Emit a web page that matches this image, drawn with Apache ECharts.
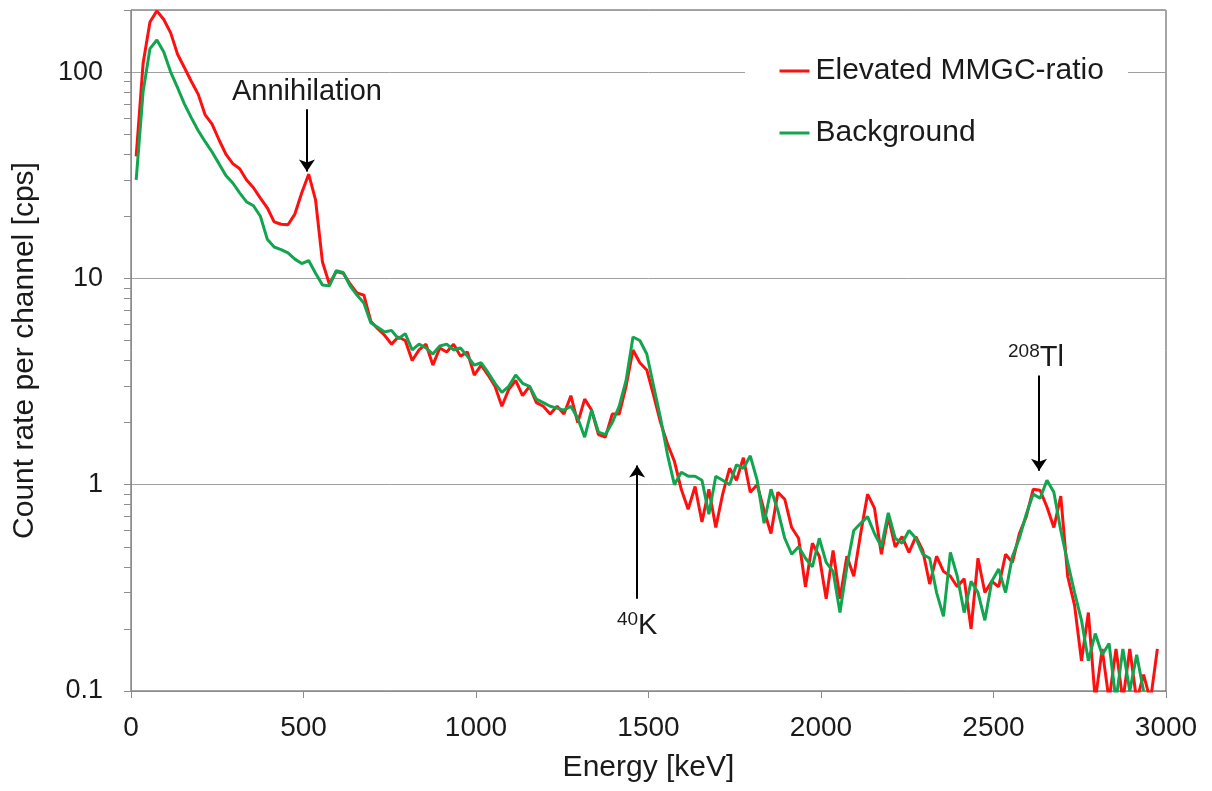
<!DOCTYPE html>
<html>
<head>
<meta charset="utf-8">
<title>Spectrum</title>
<script src="https://cdn.jsdelivr.net/npm/echarts@6.0.0/dist/echarts.min.js"></script>
<style>
  html, body { margin: 0; padding: 0; background: #fff; }
  #chart { width: 1212px; height: 791px; }
</style>
</head>
<body>
<div id="chart"></div>
<script>
// channel energies (keV)
const energy = [
  15, 35, 55, 75, 95, 115, 135, 155, 175, 195,
  215, 235, 255, 275, 295, 315, 335, 355, 375, 395,
  415, 435, 455, 475, 495, 515, 535, 555, 575, 595,
  615, 635, 655, 675, 695, 715, 735, 755, 775, 795,
  815, 835, 855, 875, 895, 915, 935, 955, 975, 995,
  1015, 1035, 1055, 1075, 1095, 1115, 1135, 1155, 1175, 1195,
  1215, 1235, 1255, 1275, 1295, 1315, 1335, 1355, 1375, 1395,
  1415, 1435, 1455, 1475, 1495, 1515, 1535, 1555, 1575, 1595,
  1615, 1635, 1655, 1675, 1695, 1715, 1735, 1755, 1775, 1795,
  1815, 1835, 1855, 1875, 1895, 1915, 1935, 1955, 1975, 1995,
  2015, 2035, 2055, 2075, 2095, 2115, 2135, 2155, 2175, 2195,
  2215, 2235, 2255, 2275, 2295, 2315, 2335, 2355, 2375, 2395,
  2415, 2435, 2455, 2475, 2495, 2515, 2535, 2555, 2575, 2595,
  2615, 2635, 2655, 2675, 2695, 2715, 2735, 2755, 2775, 2795,
  2815, 2835, 2855, 2875, 2895, 2915, 2935, 2955, 2975
];

// Elevated MMGC-ratio (cps)
const elevated = [
  39, 110, 175, 198, 180, 155, 122, 105, 90, 78,
  62, 56, 47, 40, 36, 34, 30, 27.5, 24.5, 22,
  18.8, 18.3, 18.2, 20.5, 26, 32, 24, 12, 9.4, 10.8,
  10.6, 9.4, 8.5, 8.3, 6.2, 5.7, 5.3, 4.8, 5.2, 5.0,
  4.0, 4.5, 4.8, 3.8, 4.6, 4.4, 4.8, 4.2, 4.4, 3.4,
  3.8, 3.4, 3.0, 2.4, 2.9, 3.2, 2.7, 3.0, 2.5, 2.4,
  2.2, 2.4, 2.2, 2.7, 2.0, 2.6, 2.3, 1.75, 1.7, 2.2,
  2.2, 3.0, 4.5, 3.9, 3.6, 2.7, 2.0, 1.58, 1.3, 0.95,
  0.76, 0.98, 0.66, 0.95, 0.62, 0.9, 1.2, 1.05, 1.35, 0.92,
  1.0, 0.75, 0.58, 0.92, 0.85, 0.62, 0.55, 0.32, 0.52, 0.45,
  0.28, 0.48, 0.28, 0.45, 0.36, 0.58, 0.9, 0.77, 0.46, 0.7,
  0.5, 0.56, 0.47, 0.56, 0.48, 0.33, 0.45, 0.38, 0.36, 0.32,
  0.35, 0.2, 0.44, 0.3, 0.34, 0.32, 0.46, 0.42, 0.58, 0.7,
  0.95, 0.94, 0.78, 0.62, 0.88, 0.36, 0.26, 0.14, 0.24, 0.09,
  0.16, 0.09, 0.16, 0.09, 0.16, 0.09, 0.12, 0.09, 0.16
];

// Background (cps)
const background = [
  30, 80, 130, 143, 125, 100, 84, 70, 60, 52,
  46, 41, 36, 31.5, 29, 26, 23.5, 22.5, 20, 15.5,
  14.2, 13.8, 13.3, 12.4, 11.8, 12.2, 10.6, 9.3, 9.2, 10.9,
  10.7, 9.2, 8.3, 7.6, 6.1, 5.8, 5.5, 5.6, 5.1, 5.4,
  4.5, 4.8, 4.6, 4.3, 4.7, 4.8, 4.5, 4.6, 4.2, 3.8,
  3.9, 3.5, 3.1, 2.8, 3.0, 3.4, 3.1, 3.0, 2.6, 2.5,
  2.4, 2.35, 2.3, 2.4, 2.1, 1.7, 2.3, 1.8, 1.75, 2.0,
  2.4, 3.2, 5.2, 5.0, 4.3, 3.0, 2.1, 1.4, 1.0, 1.15,
  1.1, 1.1, 1.05, 0.72, 1.1, 1.05, 1.0, 1.25, 1.2, 1.38,
  1.05, 0.65, 0.95, 0.75, 0.55, 0.46, 0.5, 0.44, 0.4, 0.55,
  0.42, 0.38, 0.24, 0.4, 0.6, 0.65, 0.7, 0.58, 0.5, 0.73,
  0.55, 0.52, 0.6, 0.55, 0.46, 0.44, 0.3, 0.23, 0.47, 0.36,
  0.24, 0.34, 0.3, 0.22, 0.34, 0.39, 0.3, 0.45, 0.55, 0.72,
  0.9, 0.86, 1.05, 0.92, 0.6, 0.42, 0.3, 0.22, 0.14, 0.19,
  0.15, 0.17, 0.09, 0.16, 0.1, 0.15, 0.1
];

const yLabels = [0.1, 1, 10, 100];
const yTicks = [
  0.1, 0.2, 0.3, 0.4, 0.5, 0.6, 0.7, 0.8, 0.9,
  1, 2, 3, 4, 5, 6, 7, 8, 9,
  10, 20, 30, 40, 50, 60, 70, 80, 90,
  100, 200
];

// annotation arrows: [energy, from value, to value]
const arrows = [
  [510, 66, 33],
  [1467, 0.28, 1.24],
  [2632, 3.38, 1.17]
];
// annotation labels: [energy, value, text]
const notes = [
  [510, 80, 'Annihilation'],
  [1467, 0.207, '{sup|40}{b|K}'],
  [2623, 4.1, '{sup|208}{b|Tl}']
];

const FONT = 'Liberation Sans, Arial, sans-serif';
const TXT = '#1a1a1a';
const AXIS = '#8c8c8c';

const chart = echarts.init(document.getElementById('chart'));

const option = {
  backgroundColor: '#fff',
  animation: false,
  grid: {
    left: 131, right: 46, top: 10, bottom: 100,
    outerBoundsMode: 'none',
    show: true,
    borderColor: '#4d4d4d',
    borderWidth: 1
  },
  legend: {
    orient: 'vertical',
    left: 745, top: 46,
    padding: [10, 24, 10, 33],
    backgroundColor: '#fff',
    itemWidth: 30, itemHeight: 24, itemGap: 32,
    itemStyle: { opacity: 0 },
    lineStyle: { width: 3 },
    data: ['Elevated MMGC-ratio', 'Background'],
    textStyle: { fontSize: 30, fontFamily: FONT, color: TXT, padding: [0, 0, 0, 1] }
  },
  xAxis: {
    type: 'value',
    min: 0, max: 3000, interval: 500,
    name: 'Energy [keV]',
    nameLocation: 'middle',
    nameGap: 62,
    nameTextStyle: { fontSize: 30, fontFamily: FONT, color: TXT },
    axisLine: { show: true, lineStyle: { color: AXIS, width: 1 } },
    axisTick: { show: true, inside: false, length: 7, lineStyle: { color: AXIS } },
    axisLabel: { fontSize: 28, fontFamily: FONT, color: TXT, margin: 23, formatter: v => String(v) },
    splitLine: { show: false }
  },
  yAxis: [
    {
      type: 'log',
      logBase: 10,
      position: 'left',
      min: 0.1, max: 200,
      name: 'Count rate per channel [cps]',
      nameLocation: 'middle',
      nameGap: 91,
      nameTextStyle: { fontSize: 30, fontFamily: FONT, color: TXT },
      axisLine: { show: true, lineStyle: { color: AXIS, width: 1 } },
      axisTick: { show: false },
      axisLabel: {
        fontSize: 27, fontFamily: FONT, color: TXT, margin: 28,
        customValues: yLabels,
        formatter: v => String(+(+v).toPrecision(3))
      },
      splitLine: { show: true, lineStyle: { color: '#a0a0a0', width: 1 } }
    },
    {
      // minor + major ticks only
      type: 'log',
      logBase: 10,
      position: 'left',
      offset: 0,
      min: 0.1, max: 200,
      axisLine: { show: false },
      axisTick: { show: true, inside: false, length: 7, customValues: yTicks, lineStyle: { color: AXIS } },
      axisLabel: { show: false },
      splitLine: { show: false }
    }
  ],
  series: [
    {
      name: 'Elevated MMGC-ratio',
      type: 'line',
      yAxisIndex: 0,
      symbol: 'none',
      color: '#ff1010',
      lineStyle: { width: 3, color: '#ff1010' },
      data: elevated.map((v, i) => [energy[i], v])
    },
    {
      name: 'Background',
      type: 'line',
      yAxisIndex: 0,
      symbol: 'none',
      color: '#12a550',
      lineStyle: { width: 3, color: '#12a550' },
      data: background.map((v, i) => [energy[i], v]),
      markLine: {
        silent: true,
        symbol: ['none', 'arrow'],
        symbolSize: 12,
        label: { show: false },
        lineStyle: { color: '#000', width: 2, type: 'solid' },
        emphasis: { disabled: true },
        data: arrows.map(a => [{ coord: [a[0], a[1]] }, { coord: [a[0], a[2]] }])
      },
      markPoint: {
        silent: true,
        symbol: 'rect',
        symbolSize: 1,
        itemStyle: { color: 'rgba(0,0,0,0)' },
        label: {
          show: true,
          position: 'inside',
          color: TXT,
          fontSize: 29,
          fontFamily: FONT,
          rich: {
            b: { fontSize: 29, fontFamily: FONT, color: TXT, lineHeight: 32 },
            sup: { fontSize: 19, fontFamily: FONT, color: TXT, lineHeight: 19, verticalAlign: 'top' }
          }
        },
        data: notes.map(n => ({ coord: [n[0], n[1]], label: { formatter: n[2] } }))
      }
    }
  ]
};

chart.setOption(option);
</script>
</body>
</html>
